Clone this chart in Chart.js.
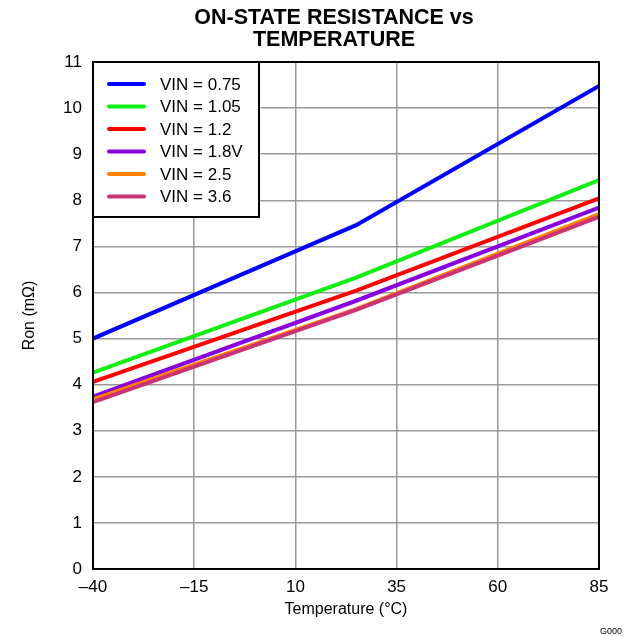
<!DOCTYPE html>
<html>
<head>
<meta charset="utf-8">
<script src="https://cdn.jsdelivr.net/npm/chart.js@4"></script>
<style>
  html, body { margin: 0; padding: 0; background: #fff; }
</style>
</head>
<body>
<canvas id="chartRon" width="632" height="636"></canvas>
<script>
const temperatures = [-40, 25, 85];
const seriesLabels = ["VIN = 0.75", "VIN = 1.05", "VIN = 1.2", "VIN = 1.8V", "VIN = 2.5", "VIN = 3.6"];
const vin075 = [5.0, 7.46, 10.48];
const vin105 = [4.26, 6.32, 8.44];
const vin12 = [4.06, 6.04, 8.04];
const vin18 = [3.74, 5.82, 7.84];
const vin25 = [3.68, 5.64, 7.7];
const vin36 = [3.62, 5.62, 7.64];
const xTicks = [-40, -15, 10, 35, 60, 85];
const titleLines = ["ON-STATE RESISTANCE vs", "TEMPERATURE"];
const seriesColors = ["#0000ff", "#11ee11", "#ff0000", "#8800dd", "#ff8000", "#cc3377"];

const allSeries = [vin075, vin105, vin12, vin18, vin25, vin36];
const font = "'Liberation Sans', Arial, sans-serif";

const datasets = allSeries.map((vals, i) => ({
    label: seriesLabels[i],
    data: vals.map((v, j) => ({ x: temperatures[j], y: v })),
    borderColor: seriesColors[i],
    backgroundColor: seriesColors[i],
    borderWidth: 4,
    pointRadius: 0,
    tension: 0,
    fill: false,
    order: allSeries.length - i,
}));

// title, frame, boxed legend and figure id
const extras = {
    id: "extras",
    afterDraw(chart) {
        const ctx = chart.ctx;
        const a = chart.chartArea;
        ctx.save();

        ctx.fillStyle = "#000";
        ctx.font = "bold 21.5px " + font;
        ctx.textAlign = "center";
        ctx.textBaseline = "middle";
        titleLines.forEach((t, i) => ctx.fillText(t, 334, 18 + i * 22));

        ctx.strokeStyle = "#000";
        ctx.lineWidth = 2;
        ctx.strokeRect(a.left, a.top, a.right - a.left, a.bottom - a.top);

        // legend
        const bx = a.left, by = a.top, bw = 166, bh = 155;
        ctx.fillStyle = "#fff";
        ctx.fillRect(bx, by, bw, bh);
        ctx.strokeRect(bx, by, bw, bh);
        ctx.font = "17px " + font;
        ctx.textAlign = "left";
        chart.data.datasets.forEach((ds, i) => {
            const y = by + 22 + i * 22.5;
            ctx.strokeStyle = ds.borderColor;
            ctx.lineWidth = 4;
            ctx.lineCap = "round";
            ctx.beginPath();
            ctx.moveTo(bx + 16, y);
            ctx.lineTo(bx + 51, y);
            ctx.stroke();
            ctx.fillStyle = "#000";
            ctx.fillText(ds.label, bx + 67, y + 1);
        });

        ctx.font = "9px " + font;
        ctx.textAlign = "right";
        ctx.fillText("G000", 622, 632);
        ctx.restore();
    },
};

const config = {
    type: "line",
    data: { datasets: datasets },
    plugins: [extras],
    options: {
        responsive: false,
        animation: false,
        layout: { padding: { left: 0, right: 33, top: 62, bottom: 0 } },
        plugins: {
            legend: { display: false },
            tooltip: { enabled: false },
            title: { display: false },
        },
        scales: {
            x: {
                type: "linear",
                min: -40,
                max: 85,
                afterBuildTicks: (s) => { s.ticks = xTicks.map((v) => ({ value: v })); },
                afterFit: (s) => { s.height = 67; },
                grid: { color: "#999", lineWidth: 1.5, drawTicks: false },
                border: { display: false },
                ticks: {
                    color: "#000",
                    padding: 8,
                    font: { family: font, size: 17 },
                    callback: (v) => (v < 0 ? "\u2013" + Math.abs(v) : String(v)),
                },
                title: {
                    display: true,
                    text: "Temperature (\u00b0C)",
                    color: "#000",
                    font: { family: font, size: 16 },
                    padding: { top: 0, bottom: 17 },
                },
            },
            y: {
                min: 0,
                max: 11,
                afterFit: (s) => { s.width = 93; },
                grid: { color: "#999", lineWidth: 1.5, drawTicks: false },
                border: { display: false },
                ticks: {
                    stepSize: 1,
                    color: "#000",
                    padding: 11,
                    font: { family: font, size: 17 },
                },
                title: {
                    display: true,
                    text: "Ron (m\u03a9)",
                    color: "#000",
                    font: { family: font, size: 16 },
                    padding: { top: 20, bottom: 0 },
                },
            },
        },
    },
};

const chartRon = document.getElementById("chartRon");
if (chartRon) {
    new Chart(chartRon, config);
}
</script>
</body>
</html>
